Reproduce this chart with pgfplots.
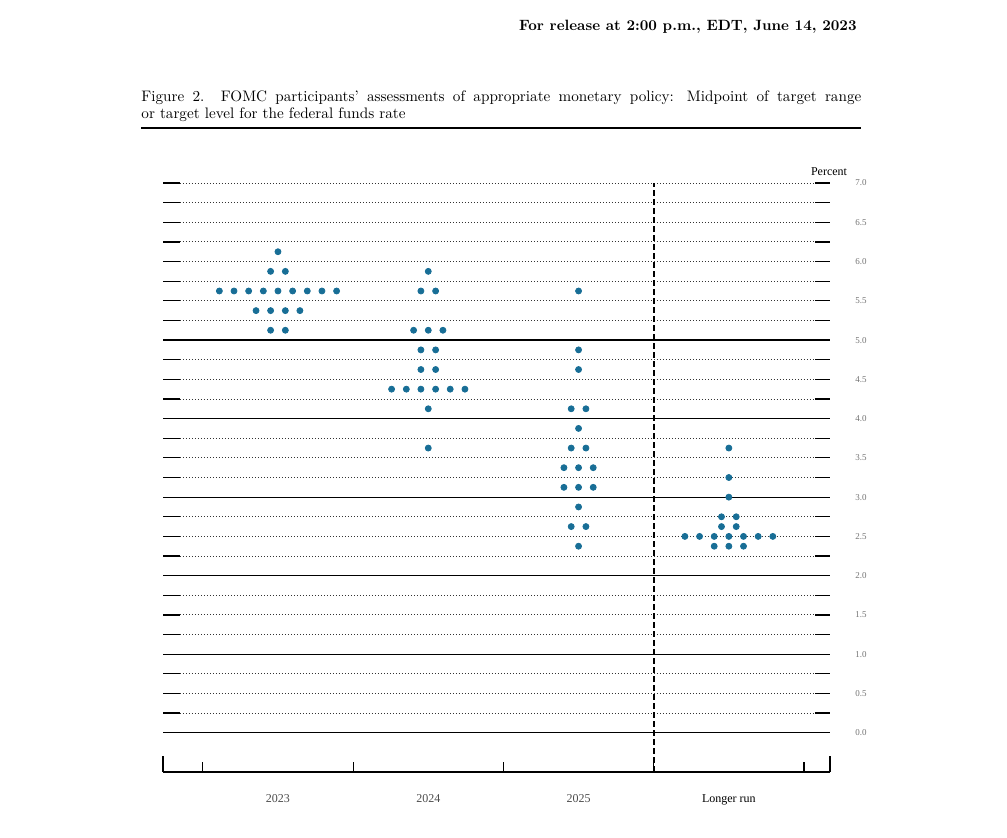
\documentclass[border=0pt]{standalone}
\usepackage{fontspec}
\usepackage{pgfplots}
\pgfplotsset{compat=1.18}
\newfontfamily\tnr{Liberation Serif}
\newfontfamily\lmten{lmroman10-regular}[Extension=.otf, BoldFont=lmroman10-bold, Ligatures=TeX]
\definecolor{dotblue}{RGB}{24,110,150}
\begin{document}
\begin{tikzpicture}
\path[use as bounding box] (0pt,0pt) rectangle (503.5pt,-419pt);
\node[anchor=base east, inner sep=0] at (428.5pt,-15.5pt) {\lmten\fontsize{7.45}{9}\selectfont\bfseries For release at 2:00 p.m., EDT, June 14, 2023};
\node[anchor=base west, inner sep=0] at (70.5pt,-51pt) {\parbox[t]{360pt}{\lmten\fontsize{7.6}{8.5}\selectfont Figure 2.\ \ FOMC participants’ assessments of appropriate monetary policy: Midpoint of target range\linebreak or target level for the federal funds rate}};
\draw[line width=1pt] (70.5pt,-64pt) -- (430.5pt,-64pt);
\node[anchor=base, inner sep=0] at (414.5pt,-88pt) {\tnr\fontsize{6}{7}\selectfont Percent};
\begin{axis}[
  scale only axis,
  width=333.5pt, height=294.5pt,
  at={(81.5pt,-386pt)}, anchor=south west,
  xmin=-0.765, xmax=3.673, ymin=-0.5, ymax=7,
  clip=false,
  axis line style={draw=none},
  xtick={-0.5,0.5,1.5,2.5,3.5}, xticklabels={},
  xtick pos=left, tick align=inside,
  major tick length=5pt,
  xtick style={line width=0.6pt, black},
  ytick={0,0.5,...,7},
  ytick pos=right, yticklabel pos=right,
  ytick style={draw=none},
  yticklabel style={anchor=center, xshift=15.5pt, font=\tnr\fontsize{4.5}{5}\selectfont, text=black!55,
    /pgf/number format/fixed, /pgf/number format/fixed zerofill, /pgf/number format/precision=1,
    /pgf/number format/assume math mode=true},
]
% dotted grid lines with solid end dashes
\pgfplotsinvokeforeach{0.25,0.5,0.75,1.25,1.5,1.75,2.25,2.5,2.75,3.25,3.5,3.75,4.25,4.5,4.75,5.25,5.5,5.75,6,6.25,6.5,6.75,7}{
  \draw[black!80, line width=0.45pt, dash pattern=on 0.5pt off 1pt] (axis cs:-0.652,#1) -- (axis cs:3.573,#1);
  \draw[black, line width=0.6pt] (axis cs:-0.765,#1) -- (axis cs:-0.652,#1);
  \draw[black, line width=0.6pt] (axis cs:3.573,#1) -- (axis cs:3.673,#1);
}
\pgfplotsinvokeforeach{0,1,2,3,4,5}{
  \draw[black, line width=0.6pt] (axis cs:-0.765,#1) -- (axis cs:3.673,#1);
}
% bottom axis line and end ticks
\draw[black, line width=0.7pt] (axis cs:-0.765,-0.5) -- (axis cs:3.673,-0.5);
\draw[black, line width=0.7pt] (axis cs:-0.765,-0.5) -- ++(0pt,8pt);
\draw[black, line width=0.7pt] (axis cs:3.673,-0.5) -- ++(0pt,8pt);
% dashed separator
\draw[black, line width=1pt, dash pattern=on 3pt off 1.5pt] (axis cs:2.5,-0.5) -- (axis cs:2.5,7);
% category labels
\node[anchor=base, inner sep=0, text=black!70] at (axis cs:0,-0.5) [yshift=-15.5pt] {\tnr\fontsize{6}{7}\selectfont 2023};
\node[anchor=base, inner sep=0, text=black!70] at (axis cs:1,-0.5) [yshift=-15.5pt] {\tnr\fontsize{6}{7}\selectfont 2024};
\node[anchor=base, inner sep=0, text=black!70] at (axis cs:2,-0.5) [yshift=-15.5pt] {\tnr\fontsize{6}{7}\selectfont 2025};
\node[anchor=base, inner sep=0, text=black] at (axis cs:3,-0.5) [yshift=-15.5pt] {\tnr\fontsize{6}{7}\selectfont Longer run};
% 2023
\addplot[only marks, mark=*, mark size=1.5pt, color=dotblue, mark options={draw=dotblue, fill=dotblue}] coordinates {
(0,6.125)
(-0.049,5.875)(0.049,5.875)
(-0.39,5.625)(-0.2925,5.625)(-0.195,5.625)(-0.0975,5.625)(0,5.625)(0.0975,5.625)(0.195,5.625)(0.2925,5.625)(0.39,5.625)
(-0.146,5.375)(-0.049,5.375)(0.049,5.375)(0.146,5.375)
(-0.049,5.125)(0.049,5.125)
};
% 2024
\addplot[only marks, mark=*, mark size=1.5pt, color=dotblue, mark options={draw=dotblue, fill=dotblue}] coordinates {
(1,5.875)
(0.951,5.625)(1.049,5.625)
(0.9025,5.125)(1,5.125)(1.0975,5.125)
(0.951,4.875)(1.049,4.875)
(0.951,4.625)(1.049,4.625)
(0.756,4.375)(0.854,4.375)(0.951,4.375)(1.049,4.375)(1.146,4.375)(1.244,4.375)
(1,4.125)
(1,3.625)
};
% 2025
\addplot[only marks, mark=*, mark size=1.5pt, color=dotblue, mark options={draw=dotblue, fill=dotblue}] coordinates {
(2,5.625)
(2,4.875)
(2,4.625)
(1.951,4.125)(2.049,4.125)
(2,3.875)
(1.951,3.625)(2.049,3.625)
(1.9025,3.375)(2,3.375)(2.0975,3.375)
(1.9025,3.125)(2,3.125)(2.0975,3.125)
(2,2.875)
(1.951,2.625)(2.049,2.625)
(2,2.375)
};
% Longer run
\addplot[only marks, mark=*, mark size=1.5pt, color=dotblue, mark options={draw=dotblue, fill=dotblue}] coordinates {
(3,3.625)
(3,3.25)
(3,3.0)
(2.951,2.75)(3.049,2.75)
(2.951,2.625)(3.049,2.625)
(2.7075,2.5)(2.805,2.5)(2.9025,2.5)(3,2.5)(3.0975,2.5)(3.195,2.5)(3.2925,2.5)
(2.9025,2.375)(3,2.375)(3.0975,2.375)
};
\end{axis}
\end{tikzpicture}
\end{document}
